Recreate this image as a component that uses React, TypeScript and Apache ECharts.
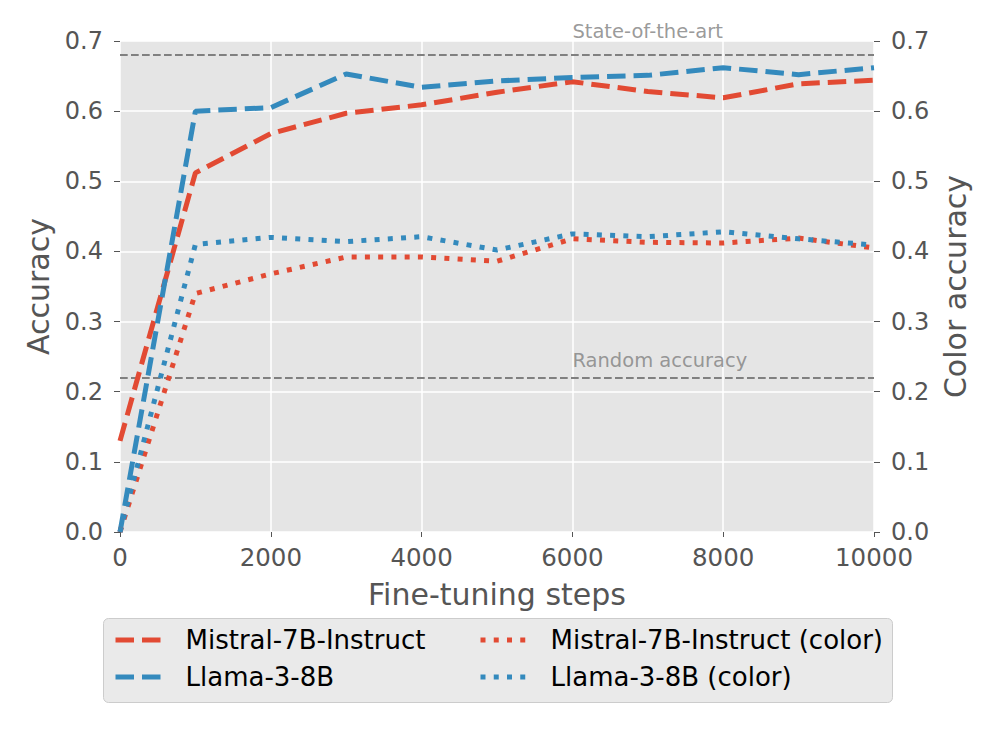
import React, { useEffect, useRef } from "react";
import * as echarts from "echarts";

const steps = [0, 1000, 2000, 3000, 4000, 5000, 6000, 7000, 8000, 9000, 10000];
const mistral = [0.13, 0.512, 0.568, 0.597, 0.609, 0.627, 0.642, 0.628, 0.619, 0.639, 0.644];
const llama = [0.0, 0.600, 0.605, 0.653, 0.634, 0.643, 0.648, 0.651, 0.662, 0.652, 0.662];
const mistralColor = [0.0, 0.34, 0.368, 0.392, 0.392, 0.386, 0.418, 0.413, 0.412, 0.419, 0.405];
const llamaColor = [0.0, 0.41, 0.42, 0.414, 0.421, 0.402, 0.425, 0.421, 0.428, 0.418, 0.409];

const seriesNames = [
  "Mistral-7B-Instruct",
  "Llama-3-8B",
  "Mistral-7B-Instruct (color)",
  "Llama-3-8B (color)",
];
const refValues = [0.68, 0.22];
const refLabels = ["State-of-the-art", "Random accuracy"];
const refLabelX = 6000;
const refLabelY = [0.7, 0.23];

const RED = "#E24A33";
const BLUE = "#348ABD";
const FONT = "DejaVu Sans";
const DASH = [18.5, 8];
const DOT = [5, 8.25];

const pairs = (ys: number[]) => steps.map((s, i) => [s, ys[i]]);

export default function App() {
  const ref = useRef<HTMLDivElement>(null);
  useEffect(() => {
    if (!ref.current) return;
    const chart = echarts.init(ref.current, undefined, { renderer: "svg" });
    const lineSeries = (name: string, ys: number[], color: string, dash: number[], yIdx: number, extra: any = {}) => ({
      type: "line",
      name,
      data: pairs(ys),
      yAxisIndex: yIdx,
      symbol: "none",
      silent: true,
      lineStyle: { color, width: 5, type: dash, cap: "butt" },
      itemStyle: { color },
      z: 3,
      ...extra,
    });
    const axisLabelY = {
      color: "#555555",
      fontSize: 24,
      fontFamily: FONT,
      margin: 17,
      formatter: (v: number) => v.toFixed(1),
    };
    const legendBase = {
      orient: "vertical",
      top: 626,
      padding: 0,
      itemWidth: 48,
      itemHeight: 14,
      itemGap: 9,
      lineStyle: { width: 5 },
      itemStyle: { opacity: 0 },
      textStyle: { color: "#000000", fontSize: 26, fontFamily: FONT, lineHeight: 28, padding: [0, 0, 0, 17] },
      selectedMode: false,
      z: 5,
    };
    chart.setOption({
      animation: false,
      backgroundColor: "#ffffff",
      grid: {
        left: 120,
        right: 122,
        top: 41,
        bottom: 215,
        show: true,
        backgroundColor: "#E5E5E5",
        borderWidth: 0,
      },
      xAxis: {
        type: "value",
        min: 0,
        max: 10000,
        interval: 2000,
        name: "Fine-tuning steps",
        nameLocation: "middle",
        nameGap: 47,
        nameTextStyle: { color: "#555555", fontSize: 30, fontFamily: FONT },
        axisLine: { show: false },
        axisTick: { show: true, length: 5, lineStyle: { color: "#555555", width: 1 } },
        axisLabel: { color: "#555555", fontSize: 24.5, fontFamily: FONT, margin: 13, formatter: (v: number) => String(v) },
        splitLine: { show: true, lineStyle: { color: "#ffffff", width: 1.5 } },
      },
      yAxis: [
        {
          type: "value",
          min: 0,
          max: 0.7,
          interval: 0.1,
          position: "left",
          name: "Accuracy",
          nameLocation: "middle",
          nameGap: 65,
          nameTextStyle: { color: "#555555", fontSize: 30, fontFamily: FONT },
          axisLine: { show: false },
          axisTick: { show: true, length: 6, lineStyle: { color: "#555555", width: 1 } },
          axisLabel: axisLabelY,
          splitLine: { show: true, lineStyle: { color: "#ffffff", width: 1.5 } },
        },
        {
          type: "value",
          min: 0,
          max: 0.7,
          interval: 0.1,
          position: "right",
          name: "Color accuracy",
          nameLocation: "middle",
          nameGap: 61,
          nameTextStyle: { color: "#555555", fontSize: 30, fontFamily: FONT },
          axisLine: { show: false },
          axisTick: { show: true, length: 6, lineStyle: { color: "#555555", width: 1 } },
          axisLabel: axisLabelY,
          splitLine: { show: false },
        },
      ],
      graphic: [
        {
          type: "rect",
          left: 103,
          top: 618,
          z: 0,
          shape: { width: 789, height: 84, r: 5 },
          style: { fill: "#EAEAEA", stroke: "#CCCCCC", lineWidth: 1 },
        },
      ],
      legend: [
        { ...legendBase, data: [seriesNames[0], seriesNames[1]], left: 113 },
        { ...legendBase, data: [seriesNames[2], seriesNames[3]], left: 478 },
      ],
      series: [
        lineSeries(seriesNames[0], mistral, RED, DASH, 0, {
          markLine: {
            silent: true,
            symbol: "none",
            label: { show: false },
            lineStyle: { color: "#808080", width: 2, type: [7.7, 3.3] },
            data: refValues.map((v) => ({ yAxis: v })),
            z: 2,
          },
        }),
        lineSeries(seriesNames[1], llama, BLUE, DASH, 0),
        lineSeries(seriesNames[2], mistralColor, RED, DOT, 1),
        lineSeries(seriesNames[3], llamaColor, BLUE, DOT, 1),
        {
          type: "scatter",
          silent: true,
          yAxisIndex: 0,
          symbolSize: 0,
          data: refLabels.map((name, i) => ({ name, value: [refLabelX, refLabelY[i]] })),
          label: {
            show: true,
            position: "top",
            distance: 0,
            align: "left",
            formatter: "{b}",
            color: "#808080",
            fontSize: 19.5,
            fontFamily: FONT,
          },
          z: 6,
        },
      ],
    });
    return () => chart.dispose();
  }, []);
  return (
    <div
      ref={ref}
      style={{ position: "absolute", left: 0, top: 0, width: 996, height: 747 }}
    />
  );
}
